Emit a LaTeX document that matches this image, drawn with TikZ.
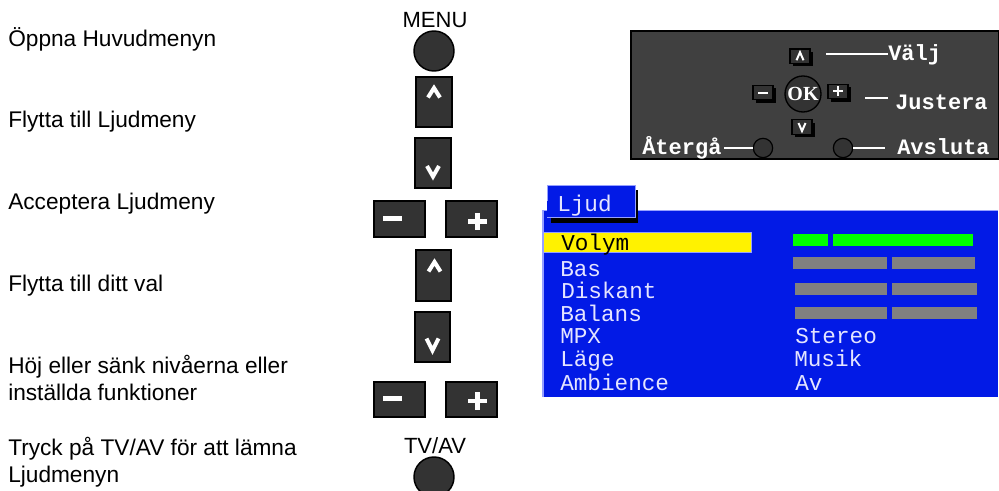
\documentclass[tikz,border=0pt]{standalone}
\usepackage{fontspec}
\setmainfont{Liberation Sans}
\newfontfamily\osdfont{Liberation Mono}
\definecolor{btngray}{RGB}{51,51,51}
\definecolor{panelgray}{RGB}{64,64,64}
\definecolor{menublue}{RGB}{2,26,230}
\definecolor{menutext}{RGB}{228,228,255}
\definecolor{edgeblue}{RGB}{150,160,255}
\definecolor{bargreen}{RGB}{0,255,0}
\definecolor{bargray}{RGB}{128,128,128}
\begin{document}
\begin{tikzpicture}[x=0.75pt,y=-0.75pt,
  instr/.style={anchor=base west, inner sep=0, font=\fontsize{17}{20.25}\selectfont, align=left},
  keylabel/.style={anchor=base, inner sep=0, font=\fontsize{16.5}{18}\selectfont},
  btn/.style={rectangle, draw=black, fill=btngray, line width=1.1pt, inner sep=0},
  rbtn/.style={circle, draw=black, fill=btngray, line width=1.1pt, inner sep=0, minimum size=30pt},
  glyph/.style={draw=white, line width=3pt, line join=miter},
  bar/.style={draw=white, line width=3.6pt},
  sbtn/.style={rectangle, draw=black, fill=btngray, line width=0.8pt, inner sep=0,
    minimum width=15pt, minimum height=11pt},
  sshadow/.style={fill=black},
  sglyph/.style={draw=white, line width=1.5pt, line join=miter},
  pline/.style={draw=white, line width=1.1pt},
  ptext/.style={anchor=base west, inner sep=0, text=white, font=\osdfont\bfseries\fontsize{16.5}{18}\selectfont},
  otext/.style={anchor=base west, inner sep=0, text=menutext, font=\osdfont\fontsize{17}{20}\selectfont}
]
\useasboundingbox (0,0) rectangle (999,491);

% ---------- instructions ----------
\node[instr] (t1) at (8,47) {Öppna Huvudmenyn};
\node[instr] (t2) at (8,128) {Flytta till Ljudmeny};
\node[instr] (t3) at (8,210) {Acceptera Ljudmeny};
\node[instr] (t4) at (8,292) {Flytta till ditt val};
\node[instr] (t5) at (8,400) {Höj eller sänk nivåerna eller\\inställda funktioner};
\node[instr] (t6) at (8,482) {Tryck på TV/AV för att lämna\\Ljudmenyn};

% ---------- keys ----------
\node[keylabel] (menulbl) at (435,28) {MENU};
\node[rbtn] (menu) at (434,51) {};

\node[btn, minimum width=27pt, minimum height=37.5pt] (up1) at (434,102) {};
\draw[glyph, shift={(up1.center)}] (-6,-4.5) -- (0,-14) -- (6,-4.5);

\node[btn, minimum width=27pt, minimum height=37.5pt] (down1) at (433,163) {};
\draw[glyph, shift={(down1.center)}] (-6,3) -- (0,13.5) -- (6,3);

\node[btn, minimum width=38.25pt, minimum height=27pt] (minus1) at (399.5,219) {};
\draw[bar, shift={(minus1.center)}] (-16.5,-0.5) -- (2.5,-0.5);

\node[btn, minimum width=38.25pt, minimum height=27pt] (plus1) at (471.5,219) {};
\draw[bar, shift={(plus1.center)}] (-3.5,2.5) -- (15.5,2.5) (6,-6) -- (6,11);

\node[btn, minimum width=26.25pt, minimum height=38.25pt] (up2) at (433.5,275.5) {};
\draw[glyph, shift={(up2.center)}] (-5,-4) -- (1,-13.5) -- (7,-4);

\node[btn, minimum width=26.25pt, minimum height=37.5pt] (down2) at (432.5,337) {};
\draw[glyph, shift={(down2.center)}] (-6,1.5) -- (0,13.5) -- (6,1.5);

\node[btn, minimum width=38.25pt, minimum height=26.25pt] (minus2) at (399.5,399.5) {};
\draw[bar, shift={(minus2.center)}] (-16.5,-1) -- (2.5,-1);

\node[btn, minimum width=38.25pt, minimum height=26.25pt] (plus2) at (471.5,399.5) {};
\draw[bar, shift={(plus2.center)}] (-3.5,1.5) -- (15.5,1.5) (6,-7.5) -- (6,10.5);

\node[keylabel] (tvlbl) at (435,453) {TV/AV};
\node[rbtn] (tvav) at (434,477) {};

% ---------- remote panel ----------
\fill[panelgray, draw=black, line width=1.3pt] (631,31) rectangle (998.5,159);

\fill[sshadow] (793,52) rectangle (813,66.5);
\node[sbtn, minimum height=10.9pt] (sup) at (800,56.25) {};
\draw[sglyph, shift={(sup.center)}] (-3.5,4) -- (0,-4) -- (3.5,4);

\fill[sshadow] (756,88) rectangle (776,103);
\node[sbtn] (sminus) at (763,92.5) {};
\draw[sglyph, shift={(sminus.center)}] (-5,1) -- (5,1);

\fill[sshadow] (831,87) rectangle (851,102);
\node[sbtn] (splus) at (838,91.5) {};
\draw[sglyph, shift={(splus.center)}] (-5,0) -- (5,0) (0,-5) -- (0,5);

\fill[sshadow] (795,123) rectangle (815,137.5);
\node[sbtn] (sdown) at (802,127) {};
\draw[sglyph, shift={(sdown.center)}] (-3.5,-4) -- (0,4) -- (3.5,-4);

\node[circle, draw=black, fill=btngray, line width=1pt, minimum size=27pt, inner sep=0,
  text=white, font=\fontspec{Liberation Serif}\bfseries\fontsize{15}{15}\selectfont] (ok) at (803,94) {OK};

\node[circle, draw=black, fill=btngray, line width=0.9pt, minimum size=14.5pt, inner sep=0] (retc) at (763,148) {};
\node[circle, draw=black, fill=btngray, line width=0.9pt, minimum size=14.5pt, inner sep=0] (exitc) at (843,148) {};

\node[ptext] (valj) at (888,61) {Välj};
\node[ptext] (just) at (895,110) {Justera};
\node[ptext] (ret) at (642,155) {Återgå};
\node[ptext] (avs) at (897,155) {Avsluta};

\coordinate (valjs) at (826,54);
\draw[pline] (valjs) -- (valjs -| valj.west);
\coordinate (justs) at (865,98);
\coordinate (juste) at (888,98);
\draw[pline] (justs) -- (juste);
\draw[pline] (retc.west) -- ([xshift=2pt]retc.west -| ret.east);
\coordinate (avse) at (885,148);
\draw[pline] (exitc.east) -- (avse);

% ---------- sound menu ----------
\fill[menublue] (543,210) rectangle (998,397);
\draw[edgeblue, line width=0.8pt] (543,397) -- (543,210.4) -- (998,210.4);
\fill[black] (550.5,190) rectangle (638,223);
\node[rectangle, fill=menublue, draw=edgeblue, line width=0.6pt, inner sep=0,
  minimum width=66pt, minimum height=24pt] (tab) at (591,201) {};
\fill[menublue] ([xshift=0.4pt,yshift=0.4pt]tab.south west) rectangle ([xshift=-0.4pt]tab.east);
\node[otext] (ljud) at (557,212) {Ljud};

\fill[yellow, draw=edgeblue, line width=0.5pt] (543,232) rectangle (751,252);
\node[otext, text=black] (volym) at (561,251) {Volym};
\node[otext] (bas) at (560,277) {Bas};
\node[otext] (disk) at (561,299) {Diskant};
\node[otext] (bal) at (560,322) {Balans};
\node[otext] (mpx) at (560,344) {MPX};
\node[otext] (lage) at (560,367) {Läge};
\node[otext] (amb) at (560,390) {Ambience};
\node[otext] (stereo) at (795,344) {Stereo};
\node[otext] (musik) at (794,367) {Musik};
\node[otext] (av) at (795,390) {Av};

\fill[bargreen] (793,234) rectangle (828,246);
\fill[bargreen] (833,234) rectangle (973,246);
\fill[bargray] (793,257) rectangle (887,269);
\fill[bargray] (892,257) rectangle (975,269);
\fill[bargray] (795,283) rectangle (887,295.5);
\fill[bargray] (892,283) rectangle (977,295.5);
\fill[bargray] (795,307) rectangle (887,319);
\fill[bargray] (892,307) rectangle (977,319);
\end{tikzpicture}
\end{document}
